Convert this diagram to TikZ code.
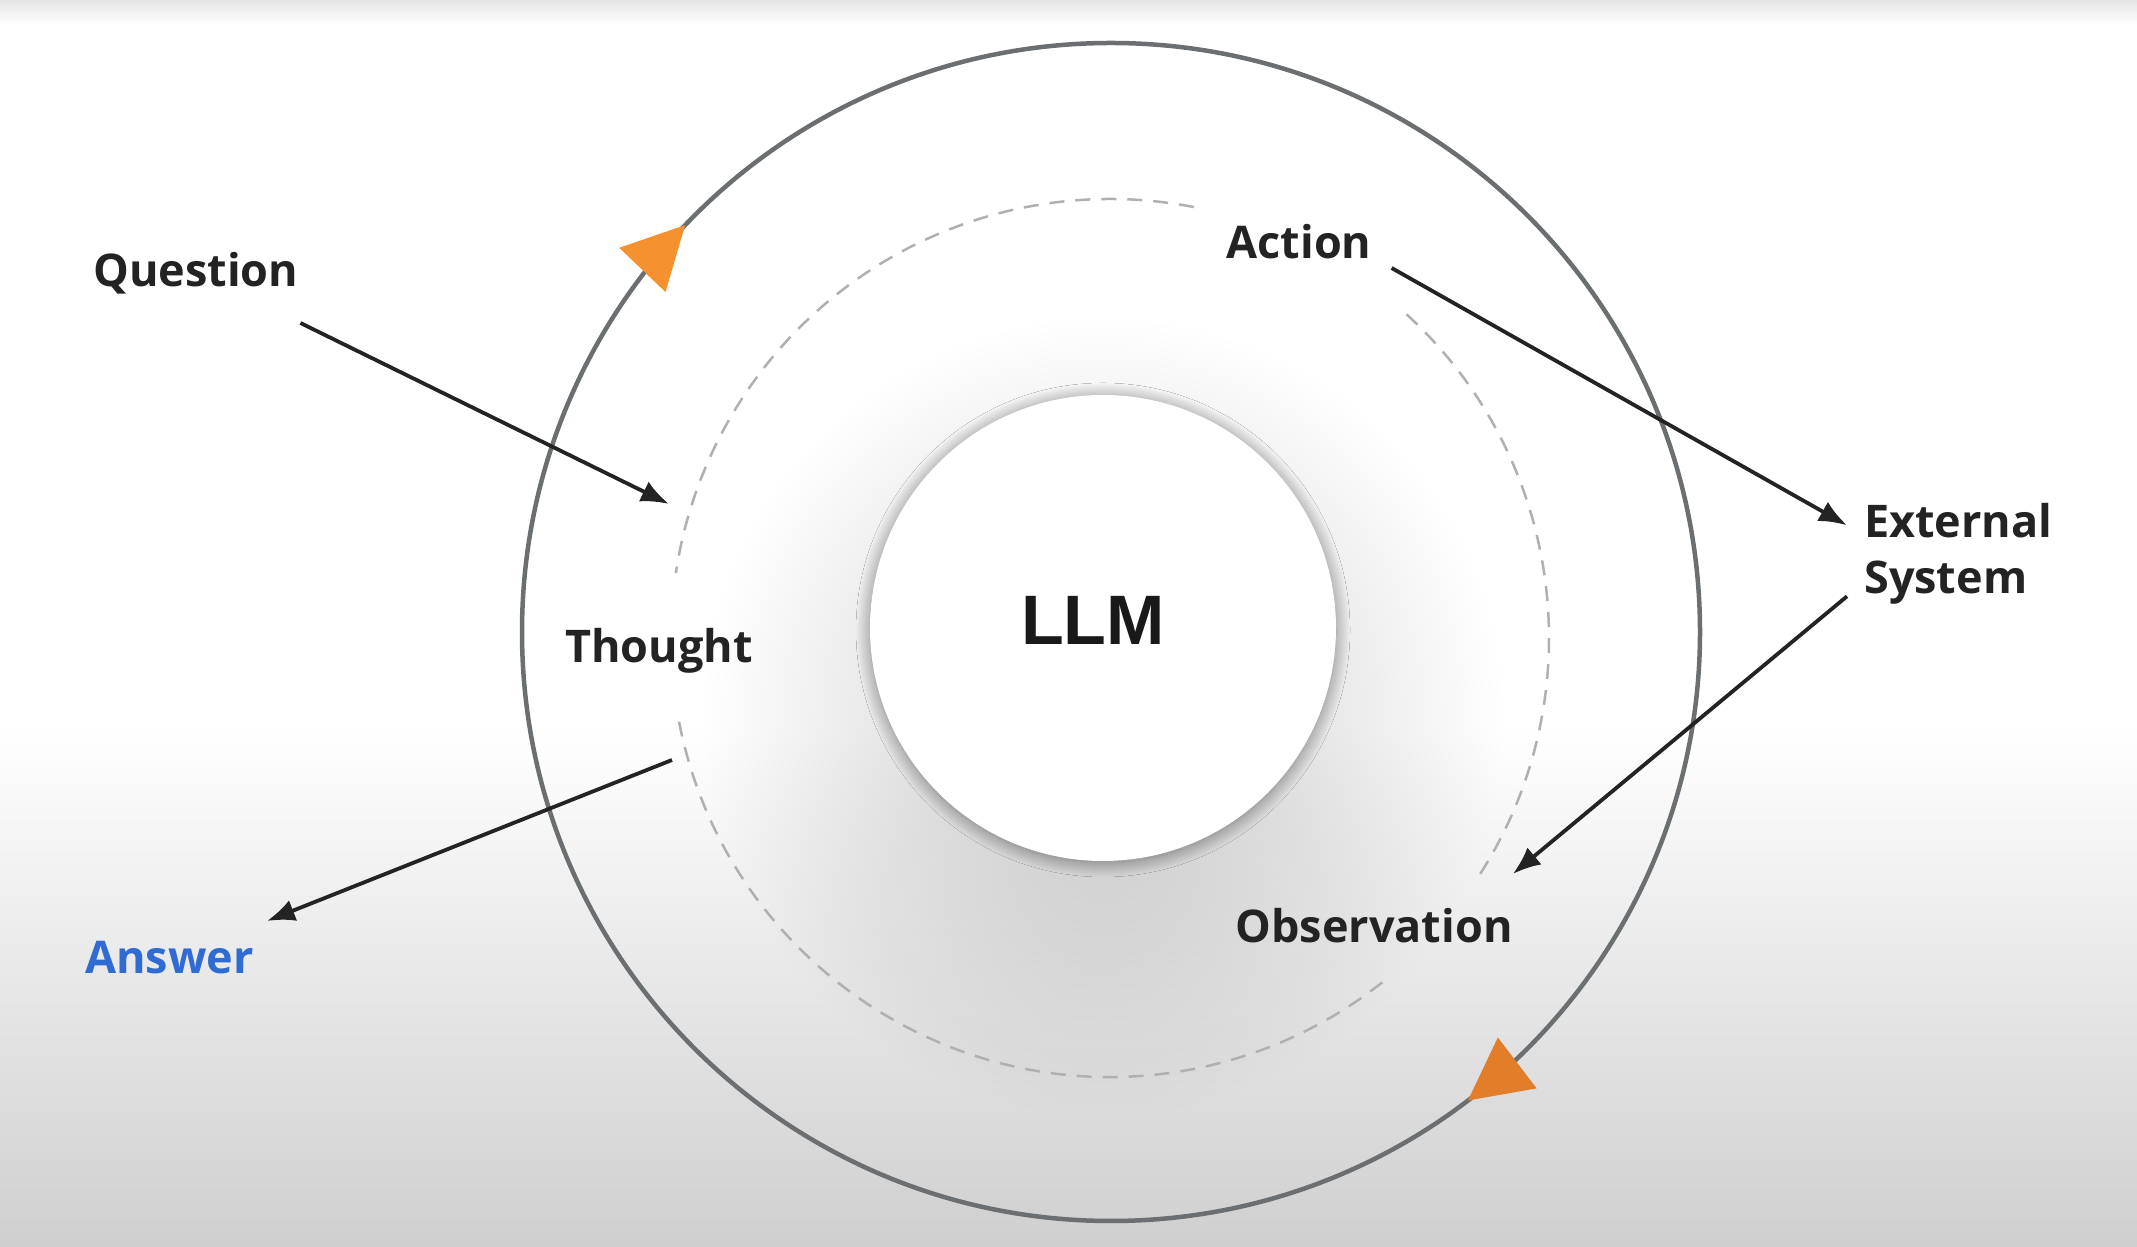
\documentclass[tikz,border=0pt]{standalone}
\usepackage{fontspec}
\usetikzlibrary{arrows.meta,positioning,calc,fadings,shadows.blur}
\setmainfont{Open Sans}
\newfontfamily\llmfont{Liberation Sans}
\definecolor{ink}{HTML}{232323}
\definecolor{ringgray}{HTML}{6B6F71}
\definecolor{dashgray}{HTML}{B0B0B0}
\definecolor{answerblue}{HTML}{2F6BD3}
\definecolor{orangeA}{HTML}{F6912F}
\definecolor{orangeB}{HTML}{E27D2A}
\definecolor{bgbot}{HTML}{CFCFCF}
\definecolor{bgtop}{HTML}{E6E6E6}
\tikzfading[name=halo, inner color=transparent!0, outer color=transparent!100]

\begin{document}
\begin{tikzpicture}[
    x=1pt, y=1pt,
    lbl/.style={inner sep=0pt, text=ink, font=\fontsize{45}{56}\selectfont\bfseries},
    arrow/.style={-{Latex[length=28pt,width=22pt]}, line width=3.8pt, draw=ink},
    ring/.style={line width=4.5pt, draw=ringgray},
    dashline/.style={line width=2.5pt, draw=dashgray, dash pattern=on 15pt off 11pt}
  ]
  \useasboundingbox (0,0) rectangle (2137,1247);
  \fill[white] (0,0) rectangle (2137,1247);
  \shade[top color=white, bottom color=bgbot] (0,0) rectangle (2137,520);
  \shade[top color=bgtop, bottom color=white] (0,1222) rectangle (2137,1247);

  \coordinate (ctr) at (1111,615);
  \coordinate (dctr) at (1110,609);
  \fill[black, opacity=.2, path fading=halo] (1103,530) circle (400);
  \draw[ring] (ctr) circle (589);
  \foreach \a/\b in {79/171.5, -32.5/48.8, 191/308.4}
    \draw[dashline] ($(dctr)+(\a:439)$) arc[start angle=\a, end angle=\b, radius=439];
  \foreach \a/\c in {136.3/orangeA, -52.7/orangeB}
    \fill[\c, shift={(ctr)}, rotate=\a] (589,0) -- (557,62) -- (621,62) -- cycle;

  \node[circle, fill=white, minimum size=466pt, inner sep=0pt,
        blur shadow={shadow blur radius=14pt, shadow blur steps=20, shadow xshift=0pt, shadow yshift=-2pt, shadow opacity=45}] (llm) at (1103,619) {};
  \node[font=\llmfont\fontsize{70}{70}\selectfont\bfseries, text=black!90] (llmtext) at ([xshift=-10pt, yshift=8pt]llm.center) {LLM};

  \node[lbl, anchor=base west] (question) at (93,960) {Question};
  \node[lbl, anchor=base] (action) at (1299,988) {Action};
  \node[lbl, anchor=base west, align=left] (external) at (1864,653) {External\\System};
  \node[lbl, anchor=base] (thought) at (659,584) {Thought};
  \node[lbl, anchor=base] (observation) at (1374,304) {Observation};
  \node[lbl, anchor=base west, text=answerblue] (answer) at (85,273) {Answer};

  \coordinate (thin) at ([shift={(10,159)}]thought.base);
  \coordinate (thout) at ([shift={(13,-97)}]thought.base);

  \draw[arrow] ([shift={(2,-36)}]question.base east) -- (thin);
  \draw[arrow] (thout) -- ([shift={(13,53)}]answer.base east);
  \draw[arrow] ([shift={(20,-9)}]action.base east) -- ([shift={(-17,29)}]external.west);
  \draw[arrow] ([shift={(-17,-42)}]external.west) -- ([shift={(0,69)}]observation.base east);
\end{tikzpicture}
\end{document}
